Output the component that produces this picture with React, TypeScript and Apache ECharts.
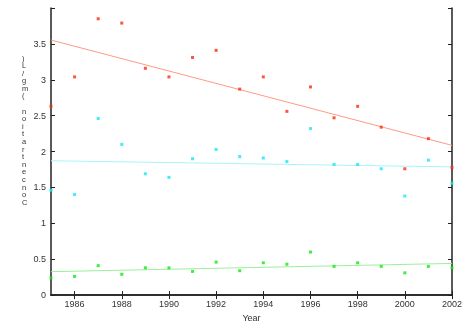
import React, { useEffect, useRef } from "react";
import * as echarts from "echarts";

const years = [1985, 1986, 1987, 1988, 1989, 1990, 1991, 1992, 1993, 1994, 1995, 1996, 1997, 1998, 1999, 2000, 2001, 2002];
const redValues = [2.63, 3.04, 3.85, 3.79, 3.16, 3.04, 3.31, 3.41, 2.87, 3.04, 2.56, 2.90, 2.47, 2.63, 2.34, 1.76, 2.18, 1.78];
const cyanValues = [1.46, 1.40, 2.46, 2.10, 1.69, 1.64, 1.90, 2.03, 1.93, 1.91, 1.86, 2.32, 1.82, 1.82, 1.76, 1.38, 1.88, 1.56];
const greenValues = [0.24, 0.26, 0.41, 0.29, 0.38, 0.38, 0.33, 0.46, 0.34, 0.45, 0.43, 0.60, 0.40, 0.45, 0.40, 0.31, 0.40, 0.38];
const xTickValues = [1986, 1988, 1990, 1992, 1994, 1996, 1998, 2000, 2002];
const yAxisTitle = "Concentration (mg/L)";
const xAxisTitle = "Year";

function fit(xs: number[], ys: number[]) {
  const n = xs.length;
  const mx = xs.reduce((a, b) => a + b, 0) / n;
  const my = ys.reduce((a, b) => a + b, 0) / n;
  let sxy = 0, sxx = 0;
  for (let i = 0; i < n; i++) {
    sxy += (xs[i] - mx) * (ys[i] - my);
    sxx += (xs[i] - mx) * (xs[i] - mx);
  }
  const b = sxy / sxx;
  const a = my - b * mx;
  const x0 = xs[0], x1 = xs[n - 1];
  return [[x0, a + b * x0], [x1, a + b * x1]];
}

export default function App() {
  const ref = useRef<HTMLDivElement>(null);
  useEffect(() => {
    if (!ref.current) return;
    const chart = echarts.init(ref.current, null, { renderer: "svg" });
    const pts = (vals: number[]) => years.map((y, i) => [y, vals[i]]);
    const axisColor = "#222";
    const labelStyle = { color: "#333", fontSize: 9, fontFamily: "Liberation Sans, Arial, sans-serif" };
    const scatter = (vals: number[], color: string) => ({
      type: "scatter",
      data: pts(vals),
      symbol: "rect",
      symbolSize: 3,
      itemStyle: { color },
      z: 3,
    });
    const trend = (vals: number[], color: string) => ({
      type: "line",
      data: fit(years, vals),
      symbol: "none",
      lineStyle: { color, width: 1 },
      z: 2,
    });
    chart.setOption({
      animation: false,
      grid: { left: 51, right: 14, top: 8, bottom: 20 },
      xAxis: [
        {
          type: "value",
          min: 1985,
          max: 2002,
          position: "bottom",
          axisLine: { show: true, lineStyle: { color: axisColor, width: 1.5 } },
          axisTick: { show: true, inside: true, length: 4, customValues: xTickValues, lineStyle: { color: axisColor } },
          axisLabel: { ...labelStyle, margin: 4, customValues: xTickValues, formatter: (v: number) => String(v) },
          splitLine: { show: false },
          name: xAxisTitle,
          nameLocation: "middle",
          nameGap: 14,
          nameTextStyle: { ...labelStyle },
        },
        {
          type: "value",
          min: 1985,
          max: 2002,
          position: "top",
          axisLine: { show: true, lineStyle: { color: axisColor, width: 1.5 } },
          axisTick: { show: true, inside: true, length: 4, customValues: xTickValues, lineStyle: { color: axisColor } },
          axisLabel: { show: false },
          splitLine: { show: false },
        },
      ],
      yAxis: [
        {
          type: "value",
          min: 0,
          max: 4,
          interval: 0.5,
          position: "left",
          axisLine: { show: true, lineStyle: { color: axisColor, width: 1.5 } },
          axisTick: { show: true, inside: true, length: 4, lineStyle: { color: axisColor } },
          axisLabel: { ...labelStyle, margin: 5, formatter: (v: number) => (v === 4 ? "" : String(v)) },
          splitLine: { show: false },
        },
        {
          type: "value",
          min: 0,
          max: 4,
          interval: 0.5,
          position: "right",
          axisLine: { show: true, lineStyle: { color: axisColor, width: 1.5 } },
          axisTick: { show: true, inside: true, length: 4, lineStyle: { color: axisColor } },
          axisLabel: { show: false },
          splitLine: { show: false },
        },
      ],
      graphic: [
        {
          type: "text",
          left: 22,
          top: 54,
          style: {
            text: yAxisTitle.split("").reverse().join("\n"),
            fill: "#333",
            fontSize: 7.5,
            lineHeight: 7.6,
            fontFamily: "Liberation Sans, Arial, sans-serif",
            align: "center",
          },
        },
      ],
      series: [
        trend(redValues, "#ff9a85"),
        trend(cyanValues, "#a8f4fa"),
        trend(greenValues, "#9af09a"),
        scatter(redValues, "#ff2a10"),
        scatter(cyanValues, "#10e8f8"),
        scatter(greenValues, "#10e810"),
      ],
    });
    return () => chart.dispose();
  }, []);
  return <div ref={ref} style={{ position: "fixed", left: 0, top: 0, width: 466, height: 327 }} />;
}
